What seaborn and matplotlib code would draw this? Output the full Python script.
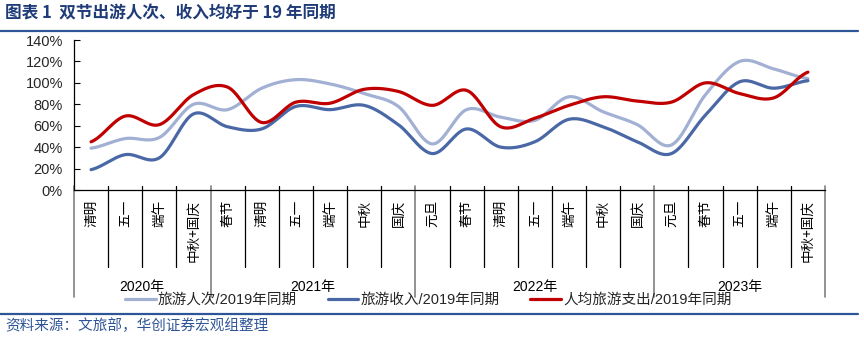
import numpy as np
import pandas as pd
import matplotlib
matplotlib.use("Agg")
import matplotlib.pyplot as plt
from matplotlib.lines import Line2D
from matplotlib.ticker import FuncFormatter
import seaborn as sns

# ---------------- data ----------------
groups = ["2020年", "2021年", "2022年", "2023年"]
group_sizes = [4, 6, 7, 5]
categories = ["清明", "五一", "端午", "中秋+国庆",
              "春节", "清明", "五一", "端午", "中秋", "国庆",
              "元旦", "春节", "清明", "五一", "端午", "中秋", "国庆",
              "元旦", "春节", "五一", "端午", "中秋+国庆"]
tourists = [39, 48, 49, 80, 75, 95, 103, 99, 90, 78, 43, 75, 68, 65, 87, 73, 61, 42, 89, 120, 113, 104]
revenue = [19, 33, 30, 71, 59, 57, 78, 75, 79, 61, 34, 57, 40, 45, 66, 59, 45, 34, 70, 101, 95, 102]
per_capita = [45, 69, 61, 89, 96, 63, 82, 81, 94, 92, 79, 93, 59, 67, 79, 87, 83, 82, 100, 90, 86, 110]
series_names = ["旅游人次/2019年同期", "旅游收入/2019年同期", "人均旅游支出/2019年同期"]
series_colors = ["#A2B0D4", "#4A68A6", "#C00000"]

title = "图表 1  双节出游人次、收入均好于 19 年同期"
source = "资料来源：文旅部，华创证券宏观组整理"

# ---------------- style ----------------
sns.set_theme(style="white")
plt.rcParams["font.family"] = ["Liberation Sans", "Noto Sans CJK SC", "DejaVu Sans"]
plt.rcParams["axes.unicode_minus"] = False


def smooth(vals, n=40):
    """Cardinal (Catmull-Rom) spline through points, like Excel smoothed lines."""
    y = np.asarray(vals, dtype=float)
    x = np.arange(len(y), dtype=float)
    m = np.zeros_like(y)
    m[1:-1] = (y[2:] - y[:-2]) / 2.0
    m[0] = (y[1] - y[0]) / 2.0
    m[-1] = (y[-1] - y[-2]) / 2.0
    xs, ys = [], []
    for i in range(len(y) - 1):
        t = np.linspace(0, 1, n, endpoint=False)
        h00 = 2 * t**3 - 3 * t**2 + 1
        h10 = t**3 - 2 * t**2 + t
        h01 = -2 * t**3 + 3 * t**2
        h11 = t**3 - t**2
        xs.append(x[i] + t)
        ys.append(h00 * y[i] + h10 * m[i] + h01 * y[i + 1] + h11 * m[i + 1])
    xs.append([x[-1]])
    ys.append([y[-1]])
    return np.concatenate(xs), np.concatenate(ys)


W, H = 864, 342
fig = plt.figure(figsize=(W / 100, H / 100), dpi=100)
ax_left, ax_right, ax_bottom, ax_top = 74, 825, 190, 40
ax = fig.add_axes([ax_left / W, 1 - ax_bottom / H, (ax_right - ax_left) / W, (ax_bottom - ax_top) / H])

frames = []
for name, vals in zip(series_names, [tourists, revenue, per_capita]):
    xs, ys = smooth(np.array(vals) / 100.0)
    frames.append(pd.DataFrame({"x": xs, "y": ys, "series": name}))
df = pd.concat(frames, ignore_index=True)

sns.lineplot(data=df, x="x", y="y", hue="series", palette=series_colors,
             hue_order=series_names, sort=False, estimator=None, lw=2.3,
             ax=ax, legend=False)

n = len(categories)
ax.set_xlim(-0.5, n - 0.5)
ax.set_ylim(0, 1.4)
ax.set_yticks(np.arange(0, 1.41, 0.2))
ax.yaxis.set_major_formatter(FuncFormatter(lambda v, p: f"{v*100:.0f}%"))
ax.tick_params(axis="y", direction="in", length=4, width=0.8, color="black",
               labelsize=10.5, pad=8, left=True)
ax.set_xticks([])
ax.set_xlabel("")
ax.set_ylabel("")
for s in ["top", "right"]:
    ax.spines[s].set_visible(False)
for s in ["left", "bottom"]:
    ax.spines[s].set_color("black")
    ax.spines[s].set_linewidth(0.9)
ax.grid(False)
ax.set_facecolor("white")

# category axis decorations
axh = ax_bottom - ax_top
tr = ax.get_xaxis_transform()
bounds = np.cumsum([0] + group_sizes)
for b in range(n + 1):
    is_group = b in bounds
    y_end = -(107 if is_group else 77) / axh
    ax.add_line(Line2D([b - 0.5, b - 0.5], [4 / axh, y_end], transform=tr,
                       color="#7f7f7f" if is_group else "black",
                       lw=1.2 if is_group else 0.9, clip_on=False))
for i, lab in enumerate(categories):
    ax.text(i, -10 / axh, lab, transform=tr, rotation=90, ha="center", va="top",
            fontsize=9.8, family=["Noto Sans CJK SC"], color="black")
for g, lab in enumerate(groups):
    c = (bounds[g] + bounds[g + 1]) / 2 - 0.5
    ax.text(c, -97 / axh, lab, transform=tr, ha="center", va="center",
            fontsize=10, color="black", family=["Liberation Sans", "Noto Sans CJK SC"])

# legend
handles = [Line2D([], [], color=c, lw=2.3) for c in series_colors]
fig.legend(handles, series_names, loc="center left", bbox_to_anchor=(125 / W, 1 - 300 / H),
           ncol=3, frameon=False, handlelength=2.1, handletextpad=0.15,
           columnspacing=2.1, borderaxespad=0, borderpad=0,
           prop={"family": ["Liberation Sans", "Noto Sans CJK SC"], "size": 10.5})

# title and source
blue = "#2E5597"
fig.text(5 / W, 1 - 13 / H, title, ha="left", va="center", fontsize=12, fontweight="bold",
         color="#1F3C78", family=["Noto Sans CJK SC"])
fig.add_artist(Line2D([0, 858 / W], [1 - 31 / H] * 2, color=blue, lw=1.6))
fig.add_artist(Line2D([0, 858 / W], [1 - 314 / H] * 2, color=blue, lw=1.6))
fig.text(5 / W, 1 - 326 / H, source, ha="left", va="center", fontsize=10.5,
         color=blue, family=["Noto Sans CJK SC"])

fig.savefig("out.png", dpi=100, facecolor="white")
